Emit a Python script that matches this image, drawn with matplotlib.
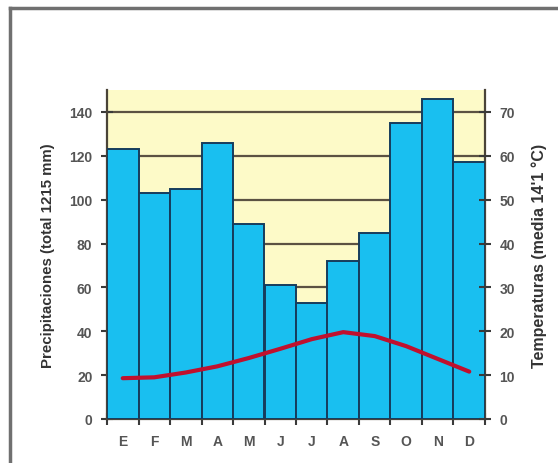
import matplotlib.pyplot as plt
from matplotlib.lines import Line2D

months = ['E', 'F', 'M', 'A', 'M', 'J', 'J', 'A', 'S', 'O', 'N', 'D']
precip = [123, 103, 105, 126, 89, 61, 53, 72, 85, 135, 146, 117]
temp = [9.3, 9.5, 10.6, 12.0, 13.9, 16.0, 18.2, 19.8, 18.9, 16.6, 13.7, 10.8]
precip_ticks = [0, 20, 40, 60, 80, 100, 120, 140]
temp_ticks = [0, 10, 20, 30, 40, 50, 60, 70]

plt.rcParams['font.family'] = ['Liberation Sans', 'DejaVu Sans']

fig = plt.figure(figsize=(5.58, 4.64), dpi=100)
fig.patch.set_facecolor('white')

# outer frame (only left and top edge fall inside the picture)
fx, fy = 10 / 558, 1 - 9 / 464
fig.add_artist(Line2D([fx, fx], [-0.1, fy], transform=fig.transFigure, color='#707070', lw=2.5))
fig.add_artist(Line2D([fx, 1.1], [fy, fy], transform=fig.transFigure, color='#707070', lw=2.5))

ax = fig.add_axes([107 / 558, 1 - 420 / 464, 378 / 558, 329 / 464])
ax.set_facecolor('#fdfac8')

x = list(range(len(months)))
ax.bar(x, precip, width=1.0, color='#19bff0', edgecolor='#163c5c', linewidth=1.4, zorder=3)
for t in precip_ticks[1:]:
    ax.axhline(t, color='#5b5142', lw=1.6, zorder=1)

ax.set_xlim(-0.5, 11.5)
ax.set_ylim(0, 150)
ax.set_yticks(precip_ticks)
ax.set_xticks([i - 0.5 for i in range(13)])
ax.set_xticklabels([])
ax.set_xticks(x, minor=True)
ax.set_xticklabels(months, minor=True)
ax.tick_params(axis='x', which='minor', length=0, pad=11)
ax.tick_params(axis='x', which='major', direction='inout', length=8, width=1.5, color='#3a3a3a')
ax.tick_params(axis='y', direction='inout', length=9, width=1.5, color='#3a3a3a', pad=6)

for s in ['left', 'right', 'bottom']:
    ax.spines[s].set_color('#4a4438')
    ax.spines[s].set_linewidth(1.6)
ax.spines['top'].set_visible(False)

ax2 = ax.twinx()
ax2.plot(x, temp, color='#c0102e', lw=3, solid_capstyle='round', solid_joinstyle='round', zorder=5)
ax2.set_ylim(0, 75)
ax2.set_yticks(temp_ticks)
ax2.tick_params(axis='y', direction='inout', length=9, width=1.5, color='#3a3a3a', pad=6)
for s in ax2.spines.values():
    s.set_visible(False)

for lbl in ax.get_yticklabels() + ax2.get_yticklabels() + ax.get_xticklabels(minor=True):
    lbl.set_fontsize(10)
    lbl.set_fontweight('bold')
    lbl.set_color('#555555')

ax.set_ylabel('Precipitaciones (total 1215 mm)', fontsize=10.8, fontweight='bold', color='#333333', labelpad=10)
ax2.set_ylabel("Temperaturas (media 14'1 °C)", fontsize=11.5, fontweight='bold', color='#333333',
               rotation=90, labelpad=12)

fig.savefig('out.png', dpi=100)
